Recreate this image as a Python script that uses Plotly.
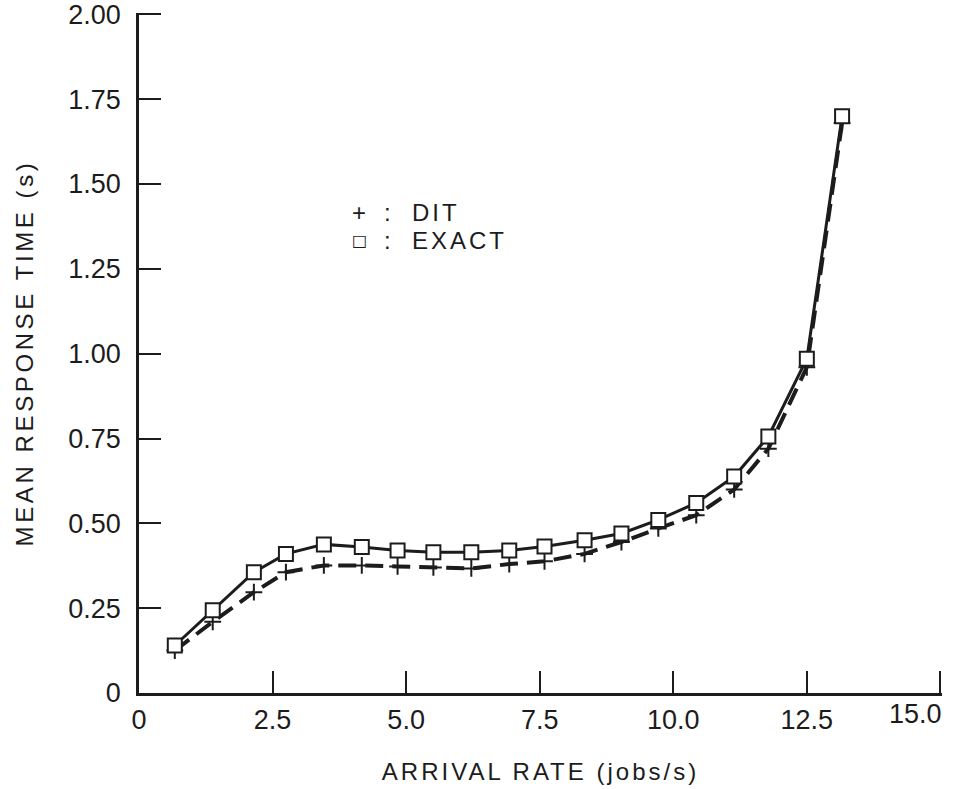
import plotly.graph_objects as go

# Data
arrival_rate = [0.67, 1.38, 2.15, 2.75, 3.46, 4.17, 4.84, 5.51, 6.22, 6.93,
                7.59, 8.34, 9.03, 9.72, 10.43, 11.14, 11.78, 12.50, 13.16]
exact = [0.14, 0.244, 0.356, 0.41, 0.438, 0.43, 0.42, 0.415, 0.415, 0.42,
         0.432, 0.45, 0.47, 0.51, 0.56, 0.638, 0.756, 0.985, 1.70]
dit = [0.125, 0.21, 0.297, 0.356, 0.376, 0.376, 0.373, 0.37, 0.367, 0.38,
       0.388, 0.41, 0.445, 0.485, 0.524, 0.60, 0.72, 0.96, 1.68]

x_tickvals = [0, 2.5, 5.0, 7.5, 10.0, 12.5, 15.0]
x_ticktext = ["0", "2.5", "5.0", "7.5", "10.0", "12.5", ""]
x_last_label = "15.0"   # drawn right-aligned at the end of the axis, as in the original
y_tickvals = [0, 0.25, 0.5, 0.75, 1.0, 1.25, 1.5, 1.75, 2.0]
y_ticktext = ["0", "0.25", "0.50", "0.75", "1.00", "1.25", "1.50", "1.75", "2.00"]

INK = "#1c1c1c"
FONT = "Liberation Sans, Arial, sans-serif"


def tracked(s, px=3):
    return '<span style="letter-spacing:%spx">%s</span>' % (px, s)


fig = go.Figure()
fig.add_trace(go.Scatter(
    x=arrival_rate, y=dit, mode="lines+markers", name="DIT",
    line=dict(color=INK, width=4, dash="18px,9px"),
    marker=dict(symbol="cross-thin", size=12, line=dict(color=INK, width=2)),
))
fig.add_trace(go.Scatter(
    x=arrival_rate, y=exact, mode="lines+markers", name="EXACT",
    line=dict(color=INK, width=3),
    marker=dict(symbol="square", size=14, color="white", line=dict(color=INK, width=2)),
))

axis_common = dict(
    showline=True, linecolor=INK, linewidth=2.5, mirror=False,
    ticks="inside", ticklen=22, tickwidth=2, tickcolor=INK,
    showgrid=False, zeroline=False, automargin=False, ticklabeloverflow="allow",
    tickfont=dict(family=FONT, size=27, color=INK),
)

fig.update_layout(
    width=953, height=789,
    margin=dict(l=139, r=11, t=13, b=96, autoexpand=False),
    paper_bgcolor="white", plot_bgcolor="white",
    showlegend=False,
    font=dict(family=FONT, color=INK),
    xaxis=dict(
        range=[0, 15.03], tickmode="array", tickvals=x_tickvals, ticktext=x_ticktext,
        ticklabelstandoff=1,
        title=dict(text=tracked("ARRIVAL RATE (jobs/s)"), font=dict(family=FONT, size=24, color=INK),
                   standoff=30),
        **axis_common,
    ),
    yaxis=dict(
        range=[0, 2.004], tickmode="array", tickvals=y_tickvals, ticktext=y_ticktext,
        ticklabelstandoff=10,
        title=dict(text=tracked("MEAN RESPONSE TIME (s)", 3.6), font=dict(family=FONT, size=24, color=INK),
                   standoff=28),
        **axis_common,
    ),
)

# Last x tick label, right-aligned on the axis end
fig.add_annotation(xref="x", yref="paper", x=x_tickvals[-1], y=0, text=x_last_label,
                   showarrow=False, xanchor="right", yanchor="middle", xshift=4, yshift=-21,
                   font=dict(family=FONT, size=27, color=INK))

# Legend text block (as in the original figure)
leg_font = dict(family=FONT, size=24, color=INK)
fig.add_annotation(xref="paper", yref="paper", x=0.274, y=0.707, text="+",
                   showarrow=False, xanchor="center", yanchor="middle", font=leg_font)
fig.add_annotation(xref="paper", yref="paper", x=0.309, y=0.707, text=":",
                   showarrow=False, xanchor="center", yanchor="middle", font=leg_font)
fig.add_annotation(xref="paper", yref="paper", x=0.337, y=0.707, text=tracked("DIT"),
                   showarrow=False, xanchor="left", yanchor="middle", font=leg_font)
fig.add_annotation(xref="paper", yref="paper", x=0.274, y=0.666, text="\u25a1",
                   showarrow=False, xanchor="center", yanchor="middle",
                   font=dict(family="DejaVu Sans", size=16, color=INK))
fig.add_annotation(xref="paper", yref="paper", x=0.309, y=0.666, text=":",
                   showarrow=False, xanchor="center", yanchor="middle", font=leg_font)
fig.add_annotation(xref="paper", yref="paper", x=0.337, y=0.666, text=tracked("EXACT"),
                   showarrow=False, xanchor="left", yanchor="middle", font=leg_font)

fig.write_html("out.html")
